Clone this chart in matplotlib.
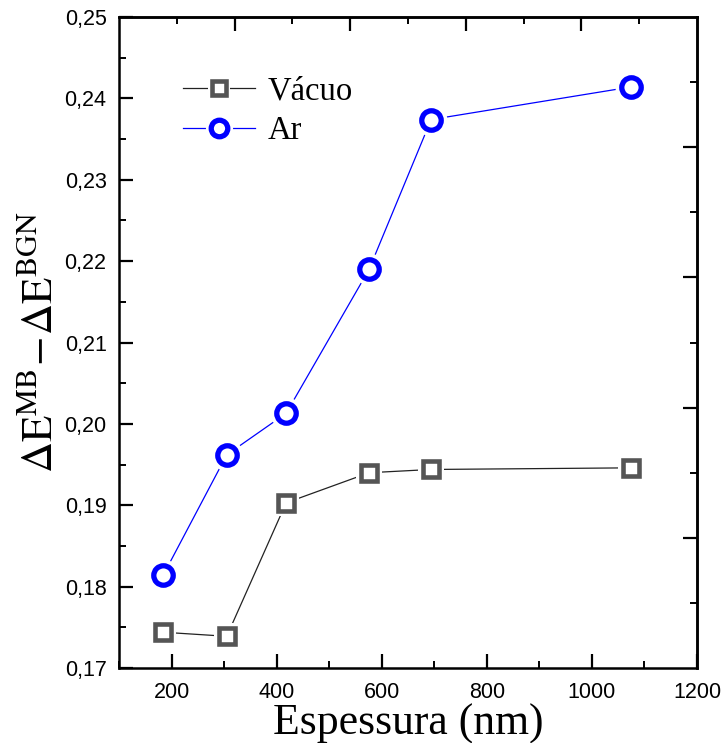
import matplotlib
matplotlib.use("Agg")
import matplotlib.pyplot as plt
from matplotlib.ticker import MultipleLocator, FuncFormatter, FixedLocator, NullFormatter
from matplotlib.legend_handler import HandlerTuple

# Data
thickness = [184, 305, 418, 576, 694, 1074]
vacuo = [0.1744, 0.1739, 0.1903, 0.1940, 0.1944, 0.1946]
ar = [0.1814, 0.1962, 0.2013, 0.2190, 0.2374, 0.2414]
series_labels = ["Vácuo", "Ar"]

plt.rcParams['mathtext.fontset'] = 'stix'

fig = plt.figure(figsize=(7.24, 7.43), dpi=100)
ax = fig.add_axes([0.1644, 0.1009, 0.7983, 0.8762])

gray = "#555555"
blue = "#0000ff"

l1, = ax.plot(thickness, vacuo, color="#222222", lw=0.9, zorder=2)
w1, = ax.plot(thickness, vacuo, ls='none', marker='s', ms=19, mfc='white', mec='white', mew=0, zorder=3)
m1, = ax.plot(thickness, vacuo, ls='none', marker='s', ms=12, mfc='white', mec=gray, mew=3.3, zorder=4)

l2, = ax.plot(thickness, ar, color=blue, lw=0.9, zorder=2)
w2, = ax.plot(thickness, ar, ls='none', marker='o', ms=23, mfc='white', mec='white', mew=0, zorder=3)
m2, = ax.plot(thickness, ar, ls='none', marker='o', ms=14, mfc='white', mec=blue, mew=3.8, zorder=4)

ax.set_xlim(100, 1200)
ax.set_ylim(0.17, 0.25)
ax.xaxis.set_major_locator(MultipleLocator(200))
ax.xaxis.set_minor_locator(MultipleLocator(100))
ax.yaxis.set_major_locator(MultipleLocator(0.01))
ax.yaxis.set_minor_locator(MultipleLocator(0.005))
ax.yaxis.set_major_formatter(FuncFormatter(lambda v, p: f"{v:.2f}".replace('.', ',')))
ax.xaxis.set_major_formatter(FuncFormatter(lambda v, p: f"{v:.0f}"))

tick_font = 'Liberation Sans'
ax.tick_params(which='major', direction='in', length=10, width=1.6, labelsize=15.5)
ax.tick_params(axis='y', which='major', pad=9)
ax.tick_params(axis='x', which='major', pad=10)
ax.tick_params(which='minor', direction='in', length=5, width=1.4)
for lab in ax.get_xticklabels() + ax.get_yticklabels():
    lab.set_fontfamily(tick_font)

for s in ax.spines.values():
    s.set_linewidth(1.8)

# Top and right secondary axes (independent tick scales)
top = ax.secondary_xaxis('top', functions=(lambda x: (x - 100) / 1100, lambda t: t * 1100 + 100))
top.xaxis.set_major_locator(FixedLocator([0.2, 0.4, 0.6, 0.8]))
top.xaxis.set_minor_locator(FixedLocator([0.1, 0.3, 0.5, 0.7, 0.9]))
top.xaxis.set_major_formatter(NullFormatter())
top.tick_params(which='major', direction='in', length=10, width=1.6)
top.tick_params(which='minor', direction='in', length=5, width=1.4)
top.spines['top'].set_linewidth(1.8)

right = ax.secondary_yaxis('right', functions=(lambda y: (y - 0.17) / 0.08, lambda t: t * 0.08 + 0.17))
right.yaxis.set_major_locator(FixedLocator([0.2, 0.4, 0.6, 0.8]))
right.yaxis.set_minor_locator(FixedLocator([0.1, 0.3, 0.5, 0.7, 0.9]))
right.yaxis.set_major_formatter(NullFormatter())
right.tick_params(which='major', direction='in', length=10, width=1.6)
right.tick_params(which='minor', direction='in', length=5, width=1.4)
right.spines['right'].set_linewidth(1.8)

ax.set_xlabel("Espessura (nm)", fontfamily='Liberation Serif', fontsize=31.5, labelpad=0.5)
ax.set_ylabel(r"$\Delta\mathrm{E}^{\mathrm{MB}}\!-\!\Delta\mathrm{E}^{\mathrm{BGN}}$", fontsize=31, labelpad=2)

leg = ax.legend([(l1, w1, m1), (l2, w2, m2)], series_labels,
                handler_map={tuple: HandlerTuple(ndivide=1)},
                loc='upper left', bbox_to_anchor=(0.06, 0.955), frameon=False,
                prop={'family': 'Liberation Serif', 'size': 23.5},
                handlelength=2.2, handletextpad=0.4, labelspacing=0.3, markerscale=0.85)

fig.savefig("out.png", dpi=100)
